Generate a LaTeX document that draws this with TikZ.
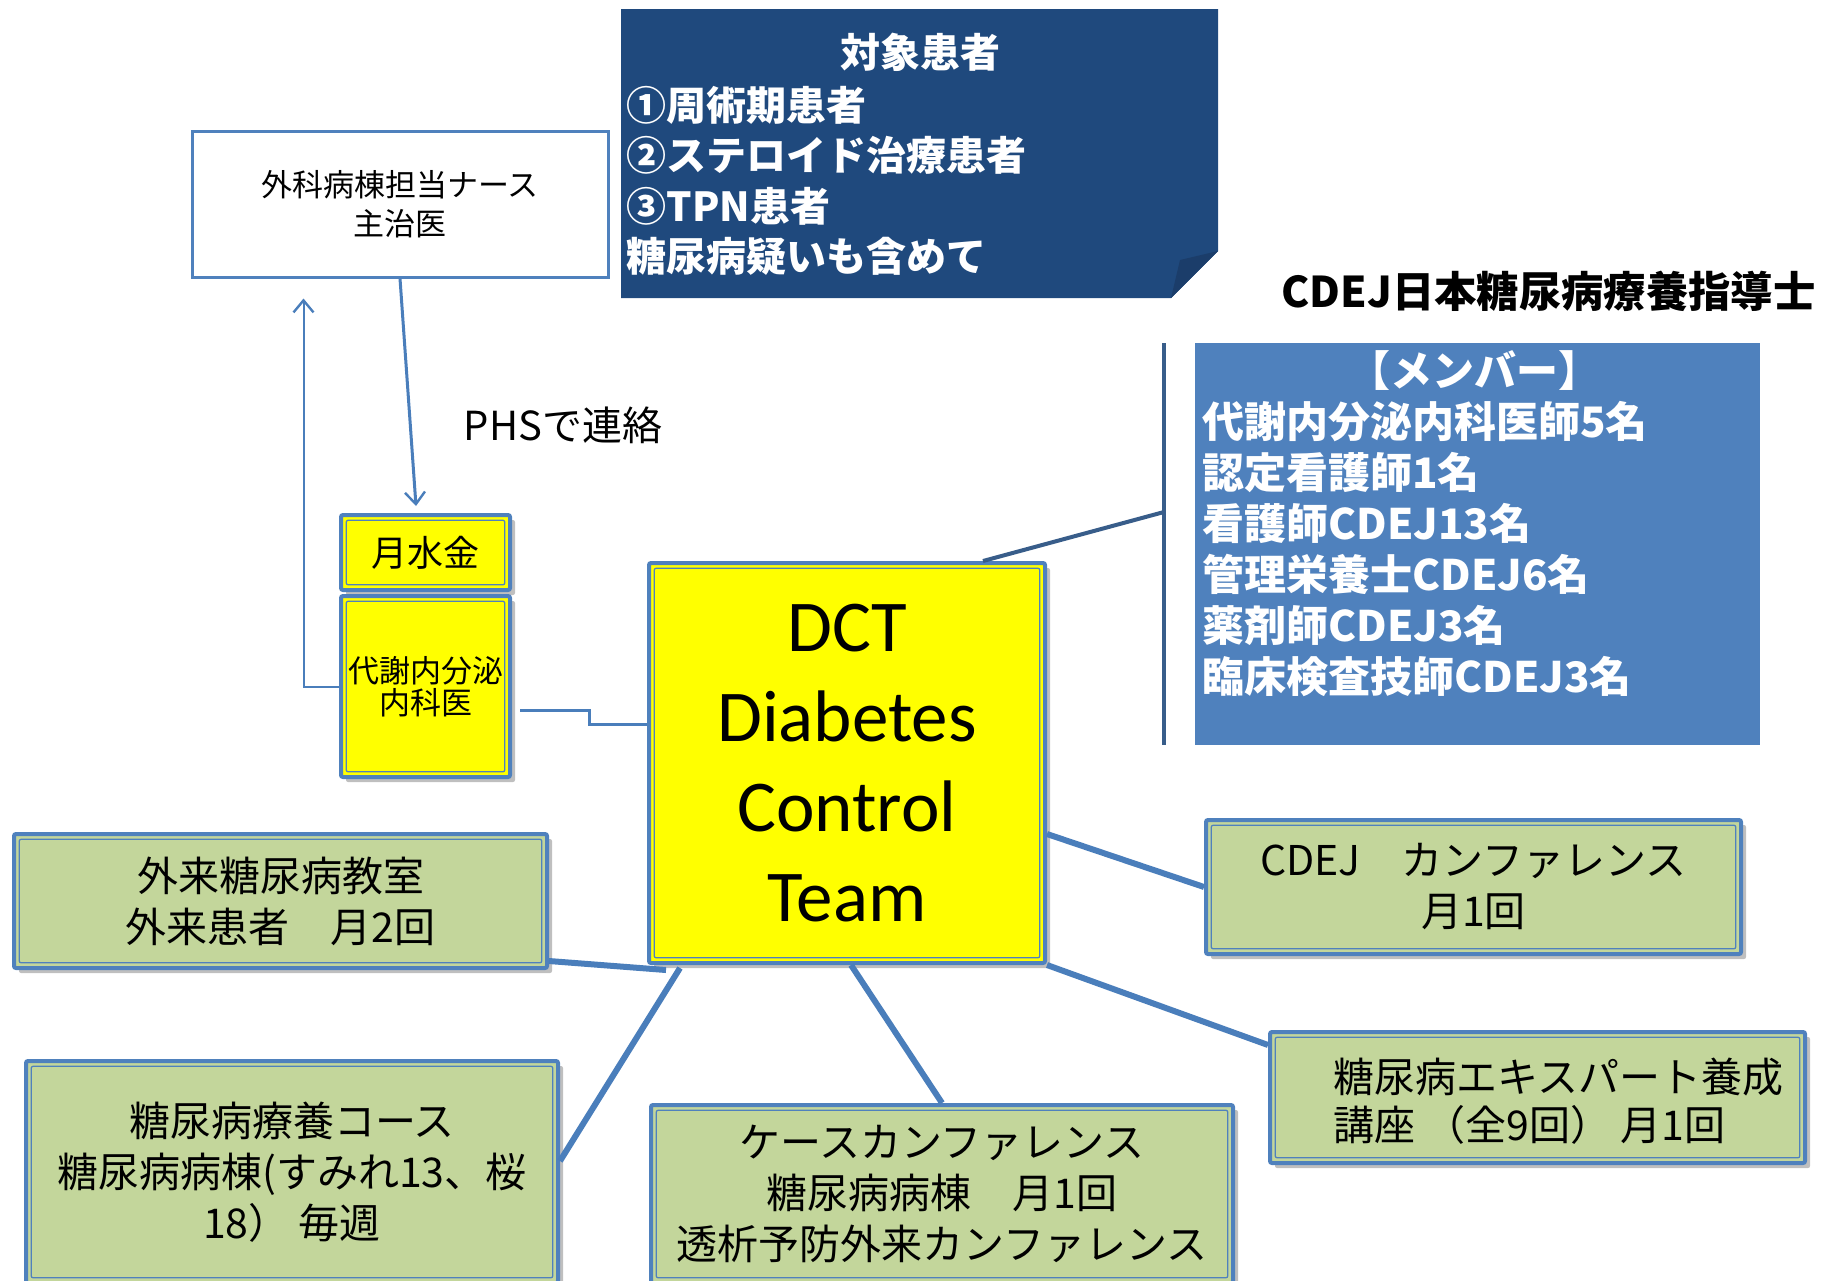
\documentclass[tikz,border=0pt]{standalone}
\usepackage{graphicx}
\usepackage{fontspec}
\setmainfont{Noto Sans CJK JP}
\newfontfamily\calibri{Carlito}
\usetikzlibrary{arrows.meta,shadows,calc}
\definecolor{boxblue}{HTML}{4F81BD}
\definecolor{linkblue}{HTML}{4A7EBB}
\definecolor{navy}{HTML}{1F497D}
\definecolor{foldnavy}{HTML}{1B3D6A}
\definecolor{vline}{HTML}{385D8A}
\definecolor{gfill}{HTML}{C3D69B}
\definecolor{yfill}{HTML}{FFFF00}
\begin{document}
\begin{tikzpicture}[x=0.5pt,y=-0.5pt,
  fsz/.style 2 args={font=\fontsize{#1}{#2}\selectfont},
  bsz/.style 2 args={font=\fontsize{#1}{#2}\selectfont\bfseries},
  innerline/.style={path picture={\draw[boxblue,line width=0.6pt]
     ([shift={(2.6pt,-2.6pt)}]path picture bounding box.north west) rectangle
     ([shift={(-2.6pt,2.6pt)}]path picture bounding box.south east);}},
  shadowed/.style={drop shadow={shadow xshift=2.5pt,shadow yshift=-2.5pt,fill=black,opacity=0.25}},
  ybox/.style={draw=boxblue,line width=2pt,fill=yfill,rounded corners=1pt,inner sep=0pt,align=center,shadowed,innerline},
  gbox/.style={draw=boxblue,line width=2pt,fill=gfill,rounded corners=1pt,inner sep=0pt,align=center,shadowed,innerline,fsz={20.5pt}{25.5pt}},
  thick link/.style={draw=linkblue,line width=3pt},
  thin link/.style={draw=linkblue,line width=1.5pt},
  open tip/.style={-{Straight Barb[length=6pt,width=10pt,line width=1.2pt]}},
]
\useasboundingbox (0,0) rectangle (1824,1280);

% target patients (folded note)
\coordinate (t1) at (621,9);
\coordinate (t2) at (1218,9);
\coordinate (t3) at (1218,251);
\coordinate (t4) at (1171,298);
\coordinate (t5) at (621,298);
\coordinate (tf) at (1180,260);
\fill[navy] (t1) -- (t2) -- (t3) -- (t4) -- (t5) -- cycle;
\fill[foldnavy] (t3) -- (tf) -- (t4) -- cycle;
\node[anchor=base,inner sep=0pt,text=white,bsz={20pt}{25pt}] (tgttitle) at (920,67) {対象患者};
% base of a multi-line node = baseline of its last line
\node[anchor=base west,inner sep=0pt,text=white,align=left,bsz={20pt}{25.25pt}] (tgtbody) at (626,271.5)
  {①周術期患者\\②ステロイド治療患者\\③TPN患者\\糖尿病疑いも含めて};

% surgical ward box
\node[draw=boxblue,line width=1.5pt,fill=white,minimum width=208pt,minimum height=73pt,inner sep=0pt,align=center,fsz={15.5pt}{19.5pt}] (gaika) at (400,204)
  {外科病棟担当ナース\\主治医};

% Mon Wed Fri + endocrinologist
\node[ybox,minimum width=84.5pt,minimum height=37.5pt,fsz={18pt}{20pt}] (getsu) at (425.5,552.5) {月水金};
\node[ybox,minimum width=84.5pt,minimum height=90.5pt,fsz={15.5pt}{16pt}] (taisha) at (425.5,686.5) {代謝内分泌\\内科医};

\node[inner sep=0pt,fsz={20pt}{24pt}] (phs) at (563,425) {PHSで連絡};

\draw[draw=linkblue,line width=1.5pt,open tip] (gaika.south) -- ([xshift=-4.75pt,yshift=3.5pt]getsu.north);
\draw[draw=linkblue,line width=1pt,open tip] (taisha.west) -| ([xshift=56.5pt,yshift=-10pt]gaika.south west);

% DCT
\node[ybox,minimum width=198pt,minimum height=200pt,font=\calibri\fontsize{36.5pt}{45pt}\selectfont] (dct) at (847,763)
  {DCT\\Diabetes\\Control\\Team};

\draw[thin link] ([xshift=4pt,yshift=-11.75pt]taisha.east) -- ++(34.5pt,0) |- ([yshift=19.5pt]dct.west);

% CDEJ heading and members
\node[anchor=base west,inner sep=0pt,bsz={23pt}{26pt}] (cdejhead) at (1281,307) {\resizebox{267pt}{!}{CDEJ日本糖尿病療養指導士}};
\coordinate (vt) at (1164,343);
\coordinate (vb) at (1164,745);
\coordinate (vm) at (1164,512);
\draw[vline,line width=2pt] (vt) -- (vb);
\node[fill=boxblue,minimum width=282.5pt,minimum height=201pt,inner sep=0pt] (members) at (1477.5,544) {};
\node[anchor=base,inner sep=0pt,text=white,bsz={21pt}{25.5pt}] (memtitle) at (1474,386) {【メンバー】};
\node[anchor=base west,inner sep=0pt,text=white,align=left,bsz={21pt}{25.5pt}] (membody) at (1202,692)
  {代謝内分泌内科医師5名\\認定看護師1名\\看護師CDEJ13名\\管理栄養士CDEJ6名\\薬剤師CDEJ3名\\臨床検査技師CDEJ3名};
\draw[vline,line width=2pt] ([xshift=68pt]dct.north) -- (vm);

% green boxes
\node[gbox,minimum width=266.5pt,minimum height=67pt] (g1) at (280.5,901) {外来糖尿病教室\\外来患者　月2回};
\node[gbox,minimum width=266pt,minimum height=111pt] (g2) at (292,1172) {糖尿病療養コース\\糖尿病病棟(すみれ13、桜\\18） 毎週};
\node[gbox,minimum width=291pt,minimum height=89pt] (g3) at (942,1194) {ケースカンファレンス\\糖尿病病棟　月1回\\透析予防外来カンファレンス};
\node[gbox,minimum width=267.5pt,minimum height=67pt] (g4) at (1473.5,887) {CDEJ　カンファレンス\\月1回};
\node[gbox,minimum width=267.5pt,minimum height=65.5pt] (g5) at (1537.5,1097.5) {};
\node[anchor=west,inner sep=0pt,align=left,fsz={20.5pt}{24pt}] (g5t) at (1333,1101) {糖尿病エキスパート養成\\講座 （全9回） 月1回};

% thick links
\draw[thick link] ([yshift=4.5pt]g1.south east) -- ([xshift=9.5pt,yshift=-2.5pt]dct.south west);
\draw[thick link] ([yshift=5.5pt]g2.east) -- ([xshift=16.5pt,yshift=-1.5pt]dct.south west);
\draw[thick link] (g3.north) -- ([xshift=2pt]dct.south);
\draw[thick link] (g4.west) -- ([yshift=-35.5pt]dct.east);
\draw[thick link] ([yshift=-7.5pt]g5.north west) -- (dct.south east);
\end{tikzpicture}
\end{document}
